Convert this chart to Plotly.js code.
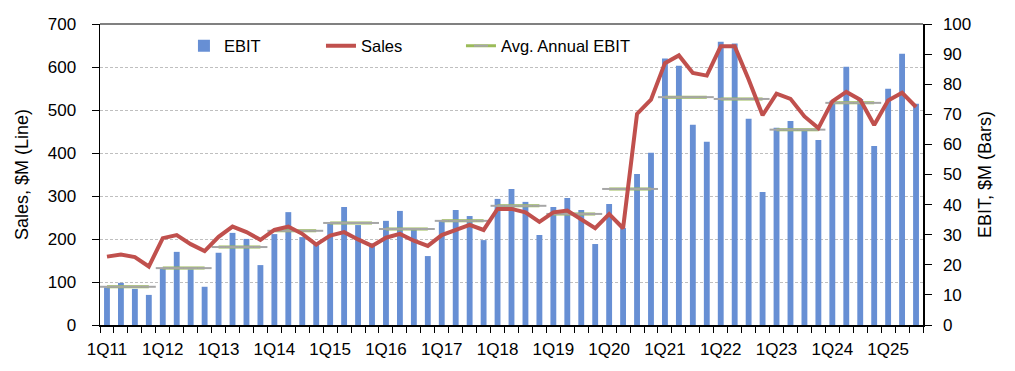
<!DOCTYPE html>
<html>
<head>
<meta charset="utf-8">
<script src="https://cdn.plot.ly/plotly-3.0.1.min.js"></script>
<style>
html, body { margin: 0; padding: 0; background: #ffffff; }
#chart { width: 1015px; height: 371px; }
</style>
</head>
<body>
<div id="chart"></div>
<script>
// ---- Data ----
const quarters = [
  '1Q11','2Q11','3Q11','4Q11','1Q12','2Q12','3Q12','4Q12',
  '1Q13','2Q13','3Q13','4Q13','1Q14','2Q14','3Q14','4Q14',
  '1Q15','2Q15','3Q15','4Q15','1Q16','2Q16','3Q16','4Q16',
  '1Q17','2Q17','3Q17','4Q17','1Q18','2Q18','3Q18','4Q18',
  '1Q19','2Q19','3Q19','4Q19','1Q20','2Q20','3Q20','4Q20',
  '1Q21','2Q21','3Q21','4Q21','1Q22','2Q22','3Q22','4Q22',
  '1Q23','2Q23','3Q23','4Q23','1Q24','2Q24','3Q24','4Q24',
  '1Q25','2Q25','3Q25'
];

// EBIT, $M (bars, right axis)
const ebit = [
  12.5, 14.0, 12.0, 10.0, 18.7, 24.3, 18.5, 12.7,
  24.0, 30.6, 28.6, 19.9, 30.2, 37.5, 29.2, 26.7,
  33.6, 39.2, 33.2, 27.1, 34.6, 37.9, 31.6, 22.9,
  34.6, 38.2, 36.2, 28.2, 41.9, 45.2, 40.9, 29.9,
  39.2, 42.2, 38.2, 26.9, 40.2, 32.2, 50.2, 57.2,
  88.5, 86.1, 66.5, 60.9, 94.1, 93.5, 68.5, 44.2,
  65.5, 67.8, 64.5, 61.5, 74.5, 85.8, 75.1, 59.5,
  78.5, 90.1, 73.5
];

// Sales, $M (line, left axis)
const sales = [
  159, 164, 158, 136, 202, 209, 188, 172,
  205, 229, 216, 198, 221, 229, 212, 187,
  208, 216, 199, 184, 203, 212, 196, 184,
  209, 222, 233, 221, 270, 270, 262, 240,
  262, 266, 245, 225, 258, 225, 491, 524,
  609, 627, 586, 580, 648, 648, 571, 488,
  538, 526, 485, 458, 520, 542, 524, 465,
  522, 540, 507
];

// Average annual EBIT, $M (one value per full year)
const avgYears = ['11','12','13','14','15','16','17','18','19','20','21','22','23','24'];
const avgEbit  = [12.7, 18.9, 25.9, 31.3, 33.9, 31.9, 34.6, 39.6, 36.9, 45.2, 75.7, 75.1, 64.9, 73.8];

const quarterPrefixes = ['1Q','2Q','3Q','4Q'];
const labelledQuarters = ['1Q11','1Q12','1Q13','1Q14','1Q15','1Q16','1Q17','1Q18','1Q19','1Q20','1Q21','1Q22','1Q23','1Q24','1Q25'];

// ---- Build the avg-line trace (segments per year, gaps between years) ----
const avgX = [];
const avgY = [];
avgYears.forEach((yy, i) => {
  quarterPrefixes.forEach(q => { avgX.push(q + yy); avgY.push(avgEbit[i]); });
  avgX.push(null); avgY.push(null);
});

const FONT = 'Liberation Sans, Arial, Helvetica, sans-serif';

const traces = [
  {
    type: 'bar',
    name: 'EBIT',
    x: quarters,
    y: ebit,
    yaxis: 'y',
    marker: { color: '#678FD4', line: { width: 0 } },
    width: 0.42,
    legend: 'legend',
    hoverinfo: 'skip'
  },
  {
    type: 'scatter',
    mode: 'lines+markers',
    name: 'Avg. Annual EBIT',
    x: avgX,
    y: avgY,
    yaxis: 'y',
    connectgaps: false,
    line: { color: '#9BBB59', width: 3 },
    marker: { symbol: 'line-ew', size: 10, color: '#A6A6A6', line: { color: '#A6A6A6', width: 2 } },
    legend: 'legend3',
    hoverinfo: 'skip'
  },
  {
    type: 'scatter',
    mode: 'lines',
    name: 'Sales',
    x: quarters,
    y: sales,
    yaxis: 'y2',
    line: { color: '#C0504D', width: 4 },
    legend: 'legend2',
    hoverinfo: 'skip'
  }
];

const legendBase = {
  orientation: 'h',
  xanchor: 'left',
  y: 0.985, yanchor: 'top',
  font: { family: FONT, size: 16.5, color: '#000000' },
  bgcolor: 'rgba(0,0,0,0)'
};

const layout = {
  width: 1015,
  height: 371,
  margin: { l: 100, r: 92, t: 24, b: 46, pad: 0 },
  paper_bgcolor: '#ffffff',
  plot_bgcolor: '#ffffff',
  font: { family: FONT, size: 17, color: '#000000' },
  showlegend: true,
  legend:  Object.assign({}, legendBase, { x: 0.102 }),
  legend2: Object.assign({}, legendBase, { x: 0.2685 }),
  legend3: Object.assign({}, legendBase, { x: 0.4386 }),
  xaxis: {
    type: 'category',
    range: [-0.5, 58.5],
    tickmode: 'array',
    tickvals: quarters,
    ticktext: quarters.map(q => labelledQuarters.includes(q) ? q : ''),
    tickson: 'boundaries',
    tickangle: 0,
    ticks: 'outside',
    ticklen: 6,
    tickwidth: 1,
    tickcolor: '#000000',
    showline: true,
    linecolor: '#000000',
    linewidth: 1.5,
    showgrid: false,
    zeroline: false,
    tickfont: { family: FONT, size: 17, color: '#000000' },
    ticklabelstandoff: 8,
    automargin: false,
    fixedrange: true
  },
  yaxis: {
    side: 'right',
    range: [0, 100],
    tick0: 0,
    dtick: 10,
    ticks: 'outside',
    ticklen: 7,
    tickcolor: '#000000',
    showline: true,
    linecolor: '#000000',
    linewidth: 1.5,
    showgrid: false,
    zeroline: false,
    tickfont: { family: FONT, size: 17, color: '#000000' },
    ticklabelstandoff: 8,
    title: { text: 'EBIT, $M (Bars)', font: { family: FONT, size: 18, color: '#000000' }, standoff: 8 },
    automargin: false,
    fixedrange: true
  },
  yaxis2: {
    overlaying: 'y',
    side: 'left',
    range: [0, 700],
    tick0: 0,
    dtick: 100,
    ticks: 'outside',
    ticklen: 7,
    tickcolor: '#000000',
    showline: true,
    linecolor: '#000000',
    linewidth: 1.5,
    showgrid: true,
    gridcolor: '#BFBFBF',
    gridwidth: 1,
    griddash: '3px,2px',
    zeroline: false,
    tickfont: { family: FONT, size: 17, color: '#000000' },
    ticklabelstandoff: 12,
    title: { text: 'Sales, $M (Line)', font: { family: FONT, size: 18, color: '#000000' }, standoff: 14 },
    automargin: false,
    fixedrange: true
  },
  shapes: [
    { type: 'line', xref: 'paper', yref: 'paper', x0: 0, x1: 1, y0: 1, y1: 1,
      line: { color: '#808080', width: 2 }, layer: 'above' }
  ]
};

Plotly.newPlot('chart', traces, layout, { staticPlot: true, displayModeBar: false });
</script>
</body>
</html>
